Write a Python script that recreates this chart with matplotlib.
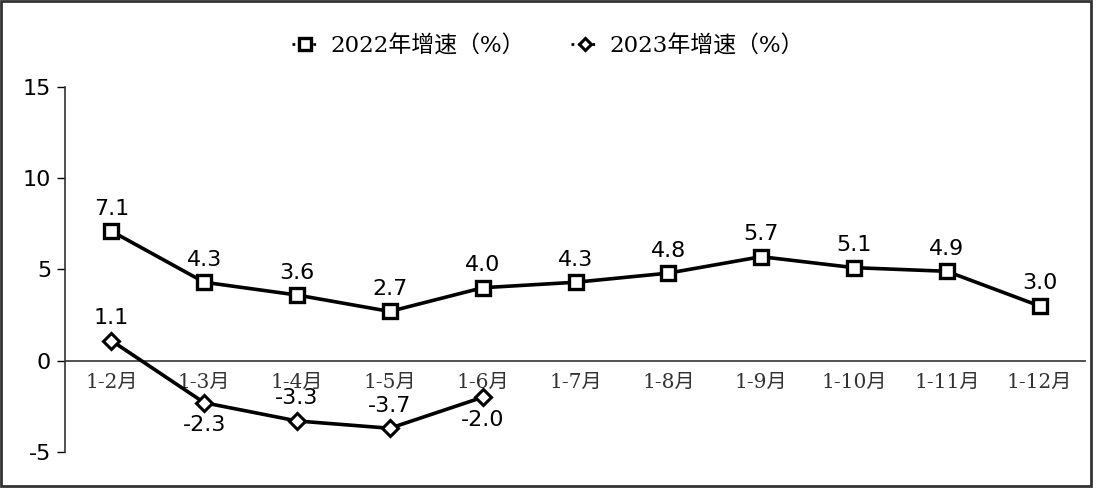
import matplotlib
matplotlib.use("Agg")
import matplotlib.pyplot as plt
from matplotlib.patches import Rectangle

months = ["1-2月", "1-3月", "1-4月", "1-5月", "1-6月", "1-7月",
          "1-8月", "1-9月", "1-10月", "1-11月", "1-12月"]
growth_2022 = [7.1, 4.3, 3.6, 2.7, 4.0, 4.3, 4.8, 5.7, 5.1, 4.9, 3.0]
growth_2023 = [1.1, -2.3, -3.3, -3.7, -2.0]
label_pos_2023 = ["above", "below", "above", "above", "below"]

plt.rcParams["axes.unicode_minus"] = False
plt.rcParams["font.family"] = ["DejaVu Sans", "Noto Sans CJK SC"]
cjk_font = ["DejaVu Serif", "Noto Sans CJK SC"]

fig = plt.figure(figsize=(10.96, 4.88), dpi=100)
ax = fig.add_axes([0.0593, 0.0738, 0.9316, 0.748])

x = list(range(len(months)))
ax.plot(x, growth_2022, color="black", lw=2.6, marker="s", ms=10,
        mfc="white", mec="black", mew=2.4, label="2022年增速（%）", zorder=3)
ax.plot(x[:len(growth_2023)], growth_2023, color="black", lw=2.6, marker="D",
        ms=8, mfc="white", mec="black", mew=2.2, label="2023年增速（%）", zorder=3)

for i, v in enumerate(growth_2022):
    ax.annotate(f"{v:.1f}", (i, v), xytext=(0, 9), textcoords="offset points",
                ha="center", va="bottom", fontsize=16)
for i, (v, p) in enumerate(zip(growth_2023, label_pos_2023)):
    dy = 9 if p == "above" else -9
    ax.annotate(f"{v:.1f}", (i, v), xytext=(0, dy), textcoords="offset points",
                ha="center", va="bottom" if p == "above" else "top", fontsize=16)

ax.set_xlim(-0.5, len(months) - 0.5)
ax.set_ylim(-5, 15)
ax.set_yticks([-5, 0, 5, 10, 15])
ax.tick_params(axis="y", direction="out", length=6, width=1, labelsize=16, pad=4)

ax.spines["bottom"].set_position(("data", 0))
ax.spines["bottom"].set_visible(False)
ax.tick_params(axis="x", length=0, pad=9)
ax.set_xticks(x)
ax.set_xticklabels(months, fontdict={"family": cjk_font, "size": 14.5, "color": "#333333"})

for s in ["top", "right"]:
    ax.spines[s].set_visible(False)
ax.spines["left"].set_linewidth(1.2)
ax.spines["left"].set_color("#333333")
ax.axhline(0, color="#333333", lw=1.2, zorder=1)

leg = fig.legend(loc="center", bbox_to_anchor=(0.5, 0.905), ncol=2, frameon=False,
                 prop={"family": cjk_font, "size": 16.5}, handlelength=1.2,
                 columnspacing=2.0, handletextpad=0.5, markerscale=0.8)
for h in leg.get_lines():
    h.set_linewidth(2)
    h.set_linestyle((0, (1, 1.5)))

fig.patches.append(Rectangle((0.001, 0.004), 0.994, 0.993, transform=fig.transFigure,
                             fill=False, edgecolor="#333333", lw=2))

fig.savefig("out.png", dpi=100)
